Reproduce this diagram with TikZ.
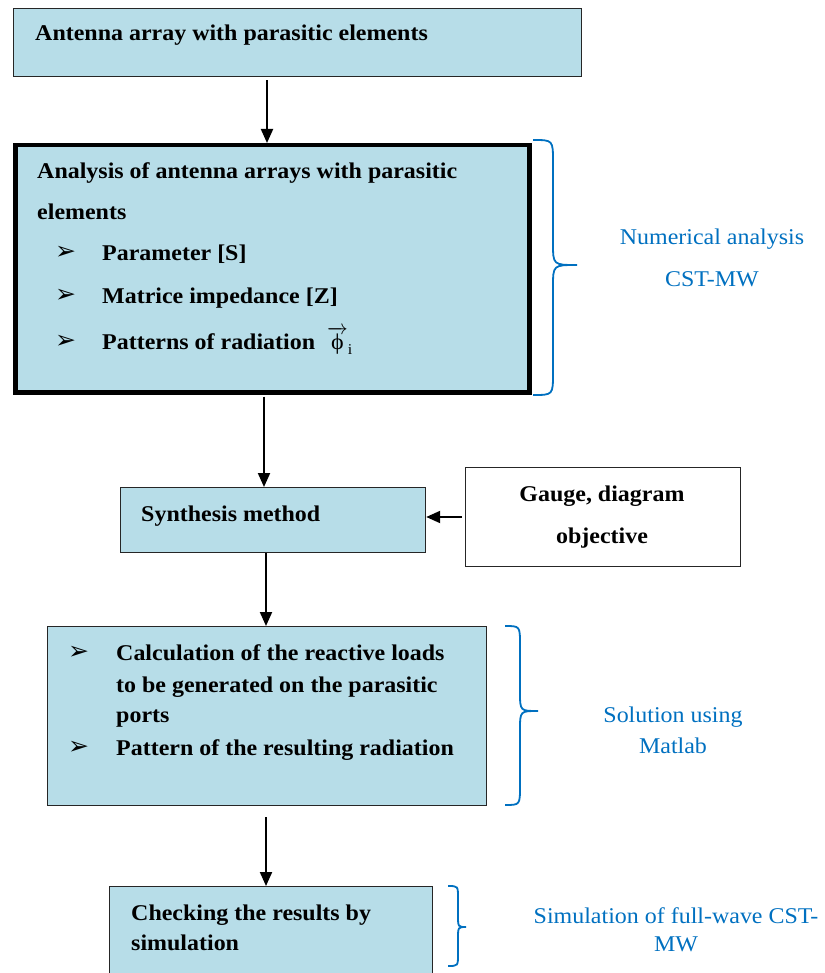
\documentclass[tikz,border=0pt]{standalone}
\usepackage{fontspec}
\setmainfont{Liberation Serif}[FakeStretch=1.065]
\newfontfamily\symf{DejaVu Sans}
\usetikzlibrary{arrows.meta}
\definecolor{boxblue}{HTML}{B7DDE8}
\definecolor{txtblue}{HTML}{0070C0}
\begin{document}
\begin{tikzpicture}[x=1pt,y=-1pt,
  box/.style={draw=black!85, line width=1.2pt, fill=boxblue, anchor=north west, inner sep=0pt},
  lbl/.style={font=\fontsize{22.5}{22.5}\selectfont\bfseries, anchor=base west, inner sep=0pt},
  bul/.style={font=\symf\fontsize{25}{25}\selectfont, anchor=base west, inner sep=0pt},
  note/.style={font=\fontsize{22.5}{22.5}\selectfont, text=txtblue, anchor=base, inner sep=0pt},
  arr/.style={line width=2pt, -{Triangle[width=12pt,length=14pt]}},
  brc/.style={draw=txtblue, line width=1.8pt}]
\useasboundingbox (0,0) rectangle (824,973);
\begin{scope}
\clip (0,0) rectangle (824,973);
% box 1
\node[box, minimum width=568pt, minimum height=68pt] (b1) at (13,8) {};
\node[lbl] (t1) at (35,41) {Antenna array with parasitic elements};
% box 2
\node[box, draw=black, line width=4.5pt, minimum width=514pt, minimum height=247pt] (b2) at (13,143) {};
\node[lbl] (t2a) at (37,179) {Analysis of antenna arrays with parasitic};
\node[lbl] (t2b) at (37,220) {elements};
\node[bul] (u2c) at (55,260) {➢};
\node[lbl] (t2c) at (102,261) {Parameter [S]};
\node[bul] (u2d) at (55,302) {➢};
\node[lbl] (t2d) at (102,303) {Matrice impedance [Z]};
\node[bul] (u2e) at (55,348) {➢};
\node[lbl] (t2e) at (102,349) {Patterns of radiation\ \ $\overrightarrow{\hbox{\mdseries ϕ}}_{\hbox{\mdseries\fontsize{15}{15}\selectfont i}}$};
% box 3
\node[box, minimum width=305pt, minimum height=65pt] (b3) at (120,487) {};
\node[lbl] (t3) at (141,521) {Synthesis method};
% box 4
\node[box, fill=white, minimum width=275pt, minimum height=99pt] (b4) at (465,467) {};
\node[lbl, anchor=base] (t4a) at (602,501) {Gauge, diagram};
\node[lbl, anchor=base] (t4b) at (602,543) {objective};
% box 5
\node[box, minimum width=439pt, minimum height=179pt] (b5) at (47,626) {};
\node[bul] (u5a) at (68,659) {➢};
\node[lbl] (t5a) at (116,660) {Calculation of the reactive loads};
\node[lbl] (t5b) at (116,692) {to be generated on the parasitic};
\node[lbl] (t5c) at (116,722) {ports};
\node[bul] (u5d) at (68,754) {➢};
\node[lbl] (t5d) at (116,755) {Pattern of the resulting radiation};
% box 6
\node[box, minimum width=323pt, minimum height=100pt] (b6) at (109,886) {};
\node[lbl] (t6a) at (131,920) {Checking the results by};
\node[lbl] (t6b) at (131,950) {simulation};
% notes
\node[note] (n1a) at (712,245) {Numerical analysis};
\node[note] (n1b) at (712,287) {CST-MW};
\node[note] (n2a) at (673,722) {Solution using};
\node[note] (n2b) at (673,753) {Matlab};
\node[note] (n3a) at (676,923) {Simulation of full-wave CST-};
\node[note] (n3b) at (676,951) {MW};
% arrows
\draw[arr, shorten <=3pt] (b1.south -| 267,0) -- (b2.north -| 267,0);
\draw[arr, shorten <=2pt] (b2.south -| 264,0) -- (b3.north -| 264,0);
\draw[arr, shorten <=3pt] (b4.west |- 0,517) -- (b3.east |- 0,517);
\draw[arr] (b3.south -| 266,0) -- (b5.north -| 266,0);
\draw[arr, shorten <=11pt] (b5.south -| 266,0) -- (b6.north -| 266,0);
% braces
\draw[brc] (533,140) .. controls (553,140) .. (553,162) -- (553,243) .. controls (553,265) .. (577,265) .. controls (553,265) .. (553,287) -- (553,373) .. controls (553,395) .. (533,395);
\draw[brc] (505,626) .. controls (520,626) .. (520,645) -- (520,692) .. controls (520,711) .. (538,711) .. controls (520,711) .. (520,730) -- (520,786) .. controls (520,805) .. (505,805);
\draw[brc] (448,886) .. controls (458,886) .. (458,898) -- (458,915) .. controls (458,927) .. (466,927) .. controls (458,927) .. (458,939) -- (458,954) .. controls (458,966) .. (448,966);
\end{scope}
\end{tikzpicture}
\end{document}
